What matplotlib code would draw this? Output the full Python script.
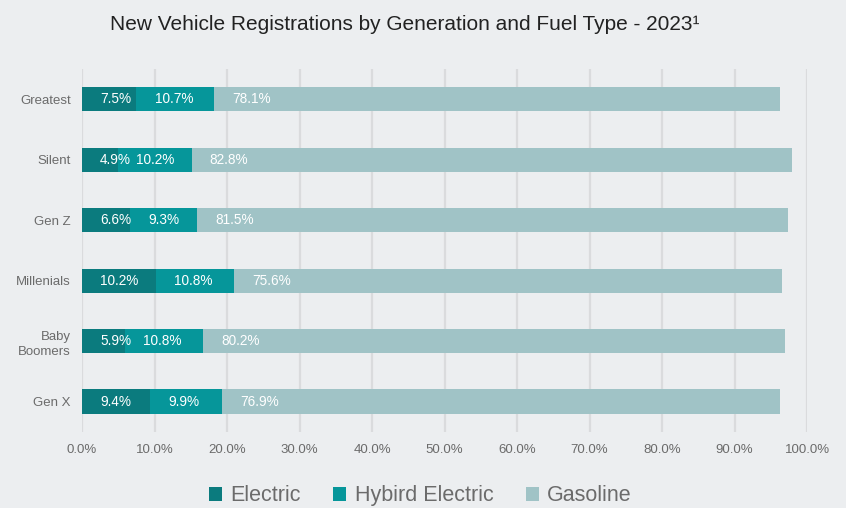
import numpy as np
import matplotlib.pyplot as plt
from matplotlib.ticker import PercentFormatter

plt.rcParams['font.family'] = ['Liberation Sans', 'DejaVu Sans']

# Registration shares by generation (top to bottom as drawn)
generations = ['Greatest', 'Silent', 'Gen Z', 'Millenials', 'Baby\nBoomers', 'Gen X']
electric = [7.5, 4.9, 6.6, 10.2, 5.9, 9.4]
hybrid = [10.7, 10.2, 9.3, 10.8, 10.8, 9.9]
gasoline = [78.1, 82.8, 81.5, 75.6, 80.2, 76.9]

series = [('Electric', electric, '#0b7b7e'),
          ('Hybird Electric', hybrid, '#06969a'),
          ('Gasoline', gasoline, '#a0c3c6')]

bg = '#eceef0'
fig = plt.figure(figsize=(8.46, 5.08), dpi=100, facecolor=bg)
ax = fig.add_axes([0.097, 0.150, 0.857, 0.714], facecolor=bg)

y = np.arange(len(generations))[::-1]
left = np.zeros(len(generations))
for name, vals, color in series:
    vals = np.array(vals)
    ax.barh(y, vals, left=left, height=0.4, color=color, label=name, zorder=3)
    for yi, l, v in zip(y, left, vals):
        ax.text(l + 2.5, yi, f'{v:.1f}%', color='white', fontsize=9.8,
                va='center', ha='left', zorder=4)
    left = left + vals

ax.set_xlim(0, 100)
ax.set_ylim(-0.5, 5.5)
ax.set_xticks(np.arange(0, 101, 10))
ax.xaxis.set_major_formatter(PercentFormatter(decimals=1))
ax.set_yticks(y)
ax.set_yticklabels(generations, linespacing=1.35)
ax.tick_params(length=0, colors='#6b6b6b', labelsize=9.5)
ax.tick_params(axis='x', pad=9)
ax.tick_params(axis='y', pad=8)
ax.grid(axis='x', color='#dadbdd', linewidth=1.6, zorder=0)
for s in ax.spines.values():
    s.set_visible(False)

fig.text(0.479, 0.952, 'New Vehicle Registrations by Generation and Fuel Type - 2023\u00b9',
         ha='center', va='center', fontsize=15, color='#222222')

leg = fig.legend(loc='lower center', bbox_to_anchor=(0.497, -0.035), ncol=3,
                 frameon=False, fontsize=15.5, handlelength=0.6, handleheight=0.6,
                 handletextpad=0.4, columnspacing=1.5)
for t in leg.get_texts():
    t.set_color('#6b6b6b')

fig.savefig('out.png', dpi=100, facecolor=bg)
